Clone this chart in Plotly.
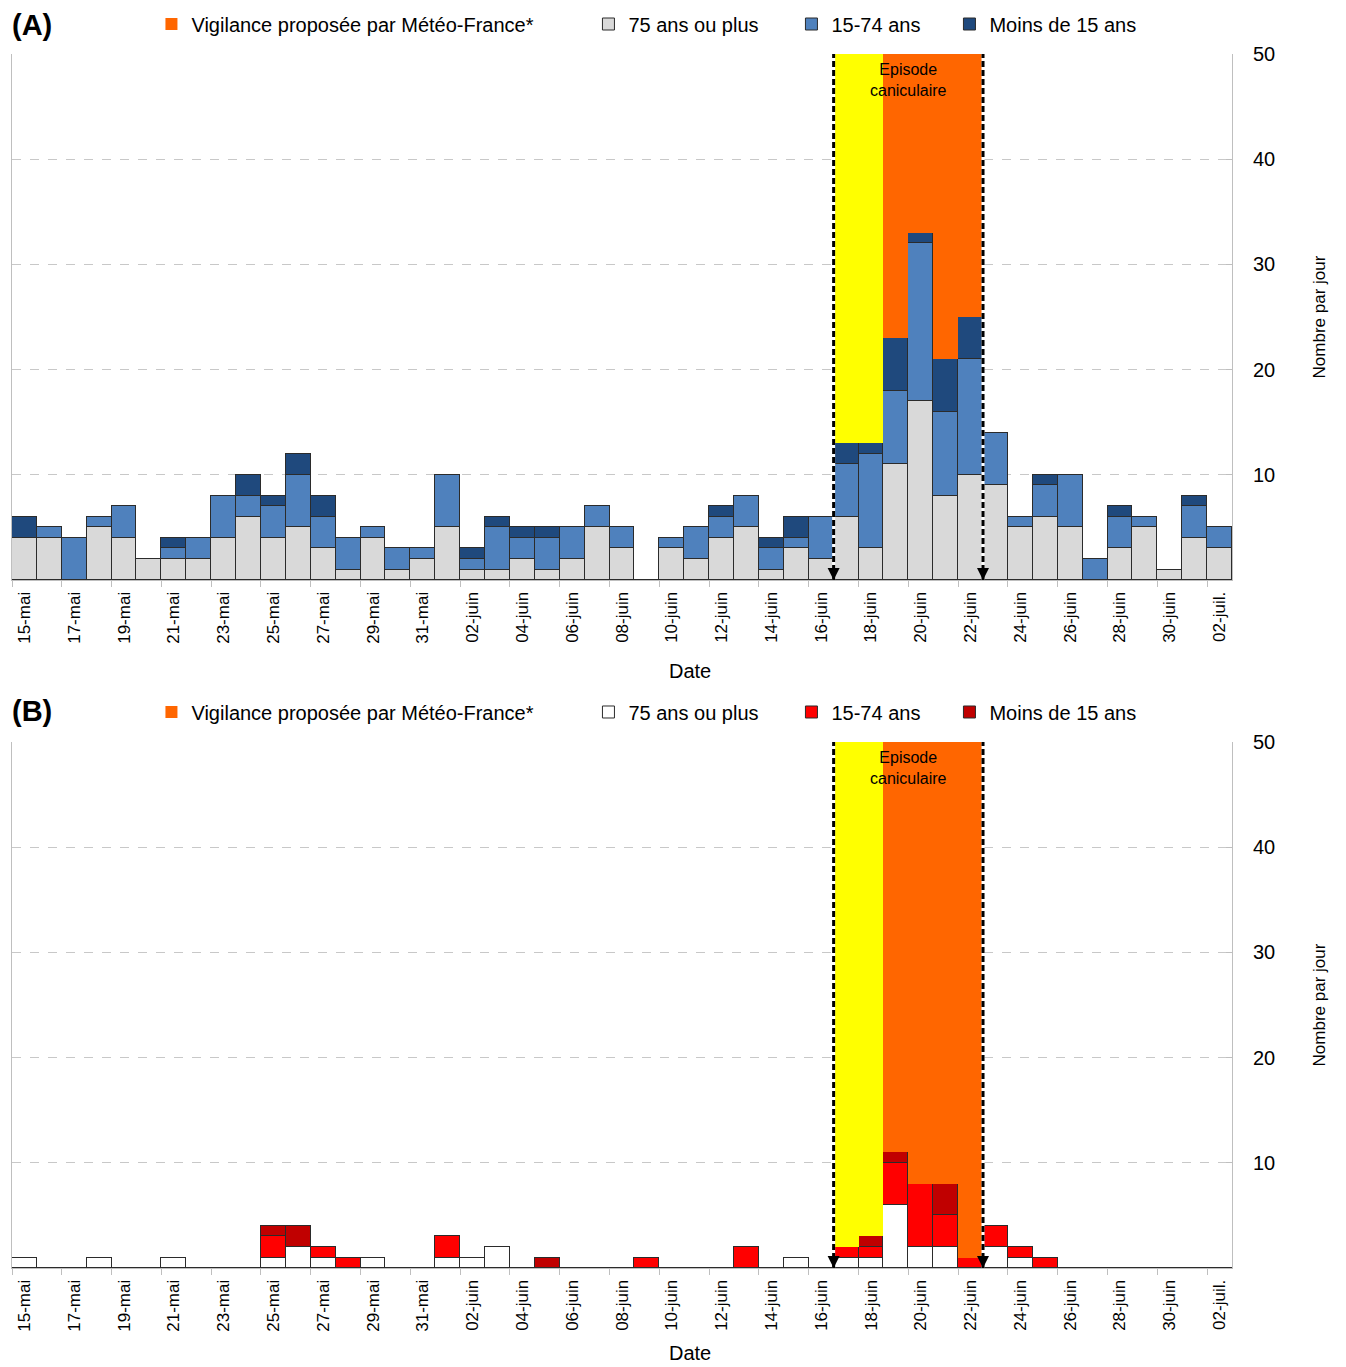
import plotly.graph_objects as go

# ---------------- data ----------------
days = ["15-mai", "16-mai", "17-mai", "18-mai", "19-mai", "20-mai", "21-mai", "22-mai", "23-mai",
        "24-mai", "25-mai", "26-mai", "27-mai", "28-mai", "29-mai", "30-mai", "31-mai",
        "01-juin", "02-juin", "03-juin", "04-juin", "05-juin", "06-juin", "07-juin", "08-juin",
        "09-juin", "10-juin", "11-juin", "12-juin", "13-juin", "14-juin", "15-juin", "16-juin",
        "17-juin", "18-juin", "19-juin", "20-juin", "21-juin", "22-juin", "23-juin", "24-juin",
        "25-juin", "26-juin", "27-juin", "28-juin", "29-juin", "30-juin", "01-juil.", "02-juil."]

# Panel A
a_75plus = [4, 4, 0, 5, 4, 2, 2, 2, 4, 6, 4, 5, 3, 1, 4, 1, 2, 5, 1, 1, 2, 1, 2, 5, 3, 0, 3, 2, 4, 5, 1, 3, 2,
            6, 3, 11, 17, 8, 10, 9, 5, 6, 5, 0, 3, 5, 1, 4, 3]
a_15_74 = [0, 1, 4, 1, 3, 0, 1, 2, 4, 2, 3, 5, 3, 3, 1, 2, 1, 5, 1, 4, 2, 3, 3, 2, 2, 0, 1, 3, 2, 3, 2, 1, 4,
           5, 9, 7, 15, 8, 11, 5, 1, 3, 5, 2, 3, 1, 0, 3, 2]
a_moins15 = [2, 0, 0, 0, 0, 0, 1, 0, 0, 2, 1, 2, 2, 0, 0, 0, 0, 0, 1, 1, 1, 1, 0, 0, 0, 0, 0, 0, 1, 0, 1, 2, 0,
             2, 1, 5, 1, 5, 4, 0, 0, 1, 0, 0, 1, 0, 0, 1, 0]

# Panel B
b_75plus = [1, 0, 0, 1, 0, 0, 1, 0, 0, 0, 1, 2, 1, 0, 1, 0, 0, 1, 1, 2, 0, 0, 0, 0, 0, 0, 0, 0, 0, 0, 0, 1, 0,
            1, 1, 6, 2, 2, 0, 2, 1, 0, 0, 0, 0, 0, 0, 0, 0]
b_15_74 = [0, 0, 0, 0, 0, 0, 0, 0, 0, 0, 2, 0, 1, 1, 0, 0, 0, 2, 0, 0, 0, 0, 0, 0, 0, 1, 0, 0, 0, 2, 0, 0, 0,
           1, 1, 4, 6, 3, 1, 2, 1, 1, 0, 0, 0, 0, 0, 0, 0]
b_moins15 = [0, 0, 0, 0, 0, 0, 0, 0, 0, 0, 1, 2, 0, 0, 0, 0, 0, 0, 0, 0, 0, 1, 0, 0, 0, 0, 0, 0, 0, 0, 0, 0, 0,
             0, 1, 1, 0, 3, 0, 0, 0, 0, 0, 0, 0, 0, 0, 0, 0]

vigilance_jaune = ["17-juin", "18-juin"]
vigilance_orange = ["19-juin", "20-juin", "21-juin", "22-juin"]
episode = ["17-juin", "22-juin"]

y_max = 50
y_ticks = [10, 20, 30, 40, 50]

# ---------------- figure ----------------
FONT = "Liberation Sans, Arial, sans-serif"
x = list(range(len(days)))
panels = [
    dict(vals=(a_75plus, a_15_74, a_moins15), cols=("#D9D9D9", "#4F81BD", "#1F497D"),
         xa="x", ya="y", leg="legend"),
    dict(vals=(b_75plus, b_15_74, b_moins15), cols=("#FFFFFF", "#FF0000", "#C00000"),
         xa="x2", ya="y2", leg="legend2"),
]
names = ["75 ans ou plus", "15-74 ans", "Moins de 15 ans"]
leg_w = [158, 113, 150]

fig = go.Figure()
for p in panels:
    totals = [sum(t) for t in zip(*p["vals"])]
    for k in range(3):
        fig.add_trace(go.Bar(
            x=x, y=p["vals"][k], name=names[k], xaxis=p["xa"], yaxis=p["ya"], legend=p["leg"],
            marker=dict(color=p["cols"][k], line=dict(color="#2B2B2B", width=1)),
            legendrank=k + 2, legendwidth=leg_w[k], hoverinfo="x+y+name"))
    jaune = [y_max - totals[i] if days[i] in vigilance_jaune else None for i in x]
    orange = [y_max - totals[i] if days[i] in vigilance_orange else None for i in x]
    fig.add_trace(go.Bar(x=x, y=jaune, xaxis=p["xa"], yaxis=p["ya"], legend=p["leg"],
                         marker=dict(color="#FFFF00", line=dict(width=0)), showlegend=False,
                         hoverinfo="skip"))
    fig.add_trace(go.Bar(x=x, y=orange, xaxis=p["xa"], yaxis=p["ya"], legend=p["leg"],
                         name="Vigilance proposée par Météo-France*",
                         marker=dict(color="#FF6600", line=dict(width=0)), legendrank=1,
                         legendwidth=392, hoverinfo="skip"))

e0 = days.index(episode[0]) - 0.5
e1 = days.index(episode[1]) + 0.5

shapes = []
annotations = []
for xa, ya in (("x", "y"), ("x2", "y2")):
    for ex in (e0, e1):
        shapes.append(dict(type="line", xref=xa, yref=ya, x0=ex, x1=ex, y0=0, y1=y_max,
                           line=dict(color="white", width=3), layer="above"))
        shapes.append(dict(type="line", xref=xa, yref=ya, x0=ex, x1=ex, y0=0, y1=y_max,
                           line=dict(color="black", width=3, dash="6px,3px"), layer="above"))
        annotations.append(dict(x=ex, y=0, xref=xa, yref=ya, ax=0, ay=-14, showarrow=True,
                                arrowhead=2, arrowsize=1.2, arrowwidth=2, arrowcolor="black", text=""))
    annotations.append(dict(x=(e0 + e1) / 2, y=y_max, xref=xa, yref=ya, yanchor="top", yshift=-5,
                            text="Episode<br>caniculaire", showarrow=False,
                            font=dict(family=FONT, size=16, color="black")))

annotations.append(dict(x=-0.0016, y=1.0235, xref="paper", yref="paper", xanchor="left", yanchor="middle",
                        text="<b>(A)</b>", showarrow=False, font=dict(family=FONT, size=29, color="black")))
annotations.append(dict(x=-0.0016, y=0.4587, xref="paper", yref="paper", xanchor="left", yanchor="middle",
                        text="<b>(B)</b>", showarrow=False, font=dict(family=FONT, size=29, color="black")))
# x-axis titles ("Date"), placed slightly right of centre as in the original
annotations.append(dict(x=0.5557, y=0.4918, xref="paper", yref="paper", xanchor="center", yanchor="middle",
                        text="Date", showarrow=False, font=dict(family=FONT, size=20, color="black")))
annotations.append(dict(x=0.5557, y=-0.0808, xref="paper", yref="paper", xanchor="center", yanchor="bottom",
                        text="Date", showarrow=False, font=dict(family=FONT, size=20, color="black")))

def xaxis(anchor):
    return dict(anchor=anchor, domain=[0, 1], range=[-0.5, len(days) - 0.5], automargin=False,
                tickmode="array", tickvals=x[::2], ticktext=days[::2], tickangle=-90,
                ticks="", ticklabelstandoff=4, tickfont=dict(family=FONT, size=17, color="black"),
                showline=True, linecolor="#BFBFBF", linewidth=1, showgrid=False, zeroline=False,
                minor=dict(tickmode="array", tickvals=[i - 0.5 for i in range(0, len(days) + 1, 2)],
                           ticks="outside", ticklen=6, tickcolor="#BFBFBF", showgrid=False))

def yaxis(anchor, domain):
    return dict(anchor=anchor, domain=domain, range=[0, y_max], side="right", automargin=False,
                tickmode="array", tickvals=y_ticks, ticks="inside", ticklen=6, tickcolor="#BFBFBF",
                ticklabelstandoff=16, tickfont=dict(family=FONT, size=20, color="black"),
                showgrid=True, gridcolor="#C8C8C8", griddash="dash", gridwidth=1,
                showline=True, mirror=True, linecolor="#BFBFBF", linewidth=1, zeroline=False,
                title=dict(text="Nombre par jour", standoff=38,
                           font=dict(family=FONT, size=17, color="black")))

legend_common = dict(orientation="h", xanchor="left", yanchor="middle", x=0.1143,
                     font=dict(family=FONT, size=20, color="black"), bgcolor="rgba(0,0,0,0)",
                     traceorder="normal")

# the page body adds an 8px offset; margins are reduced accordingly
fig.update_layout(
    width=1338, height=1359,
    margin=dict(l=4, r=114, t=46, b=99, autoexpand=False),
    paper_bgcolor="white", plot_bgcolor="white",
    barmode="stack", bargap=0,
    xaxis=xaxis("y"), yaxis=yaxis("x", [0.5667, 1.0]),
    xaxis2=xaxis("y2"), yaxis2=yaxis("x2", [0.0, 0.4333]),
    legend=dict(legend_common, y=1.0247),
    legend2=dict(legend_common, y=0.458),
    shapes=shapes, annotations=annotations,
    font=dict(family=FONT, color="black"),
)

fig.write_html("out.html")
